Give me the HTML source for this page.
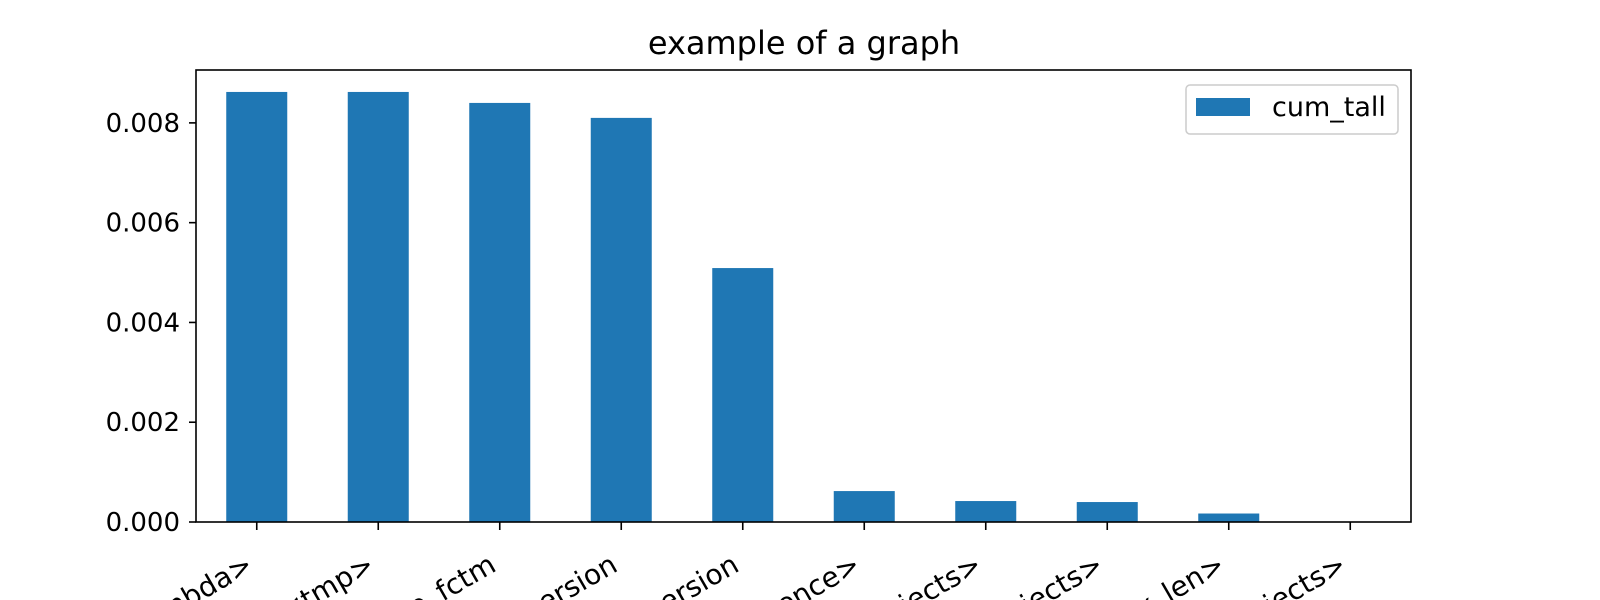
<!DOCTYPE html>
<html><head><meta charset="utf-8"><style>
html,body{margin:0;padding:0;background:#fff;overflow:hidden;width:1600px;height:600px;}
svg{display:block;overflow:hidden;}
svg text{font-family:"DejaVu Sans","Liberation Sans",sans-serif;fill:#000;}
</style></head><body>
<svg id="chart" width="1600" height="600" viewBox="0 0 1600 600" xmlns="http://www.w3.org/2000/svg">
<rect width="1600" height="600" fill="#fff"/>
<text x="804" y="54" font-size="32" text-anchor="middle">example of a graph</text>
<g id="bars"></g><g id="yaxis"></g><g id="xaxis"></g>
<rect x="196" y="70" width="1215" height="452" fill="none" stroke="#000" stroke-width="1.6"/>
<g>
<rect x="1186" y="85" width="212" height="49" rx="4" fill="#fff" stroke="#ccc" stroke-width="1.5"/>
<rect x="1196" y="98" width="54" height="18" fill="#1f77b4"/>
<text x="1272" y="116" font-size="27">cum_tall</text>
</g>
</svg>
<script>
const categories=["<lambda>","<tmp>","tmp_fctm","conversion","inversion","<sequence>","<objects>","<subjects>","<max_len>","<projects>"];
const values=[0.00862,0.00862,0.0084,0.0081,0.00509,0.00062,0.00042,0.0004,0.00017,0];
const yTicks=[0,0.002,0.004,0.006,0.008];
const yTickLabels=["0.000","0.002","0.004","0.006","0.008"];
const NS="http://www.w3.org/2000/svg";
const L=196,R=1411,T=70,B=522,yMax=0.00906;
const step=(R-L)/categories.length;
const xs=i=>L+(i+0.5)*step;
const ys=v=>B-(v/yMax)*(B-T);
function mk(t,a,p){const e=document.createElementNS(NS,t);for(const k in a)e.setAttribute(k,a[k]);p.appendChild(e);return e;}
const gb=document.getElementById('bars'),gy=document.getElementById('yaxis'),gx=document.getElementById('xaxis');
values.forEach((v,i)=>{
  const r=mk('rect',{x:xs(i)-30.5,y:ys(v),width:61,height:B-ys(v),fill:'#1f77b4'},gb);
  
  
});
yTicks.forEach((t,i)=>{
  const y=ys(t);
  const l=mk('line',{x1:L-7,x2:L,y1:y,y2:y,stroke:'#000','stroke-width':1.6},gy);
  
  
  const tx=mk('text',{x:L-16,y:y+9,'font-size':26,'text-anchor':'end'},gy);
  tx.textContent=yTickLabels[i];
  
  
});
categories.forEach((c,i)=>{
  const x=xs(i);
  const l=mk('line',{x1:x,x2:x,y1:B,y2:B+8,stroke:'#000','stroke-width':1.6},gx);
  
  
  const ax=x-2,ay=B+48;
  const tx=mk('text',{x:ax,y:ay,'font-size':28,'text-anchor':'end',transform:`rotate(-30 ${ax} ${ay})`},gx);
  tx.textContent=c;
  
  
});
</script>
</body></html>
